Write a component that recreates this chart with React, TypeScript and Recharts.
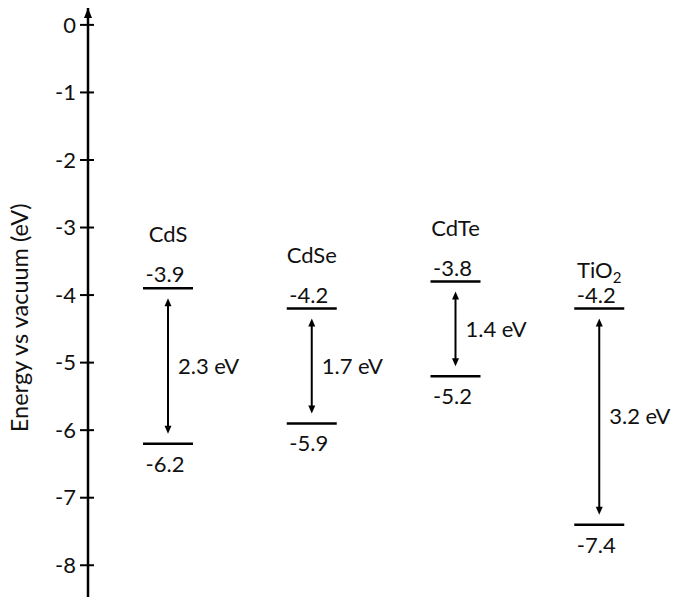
import React from 'react';
import { ComposedChart, Bar, XAxis, YAxis } from 'recharts';

// ---- data ----
const materials = ['CdS', 'CdSe', 'CdTe', 'TiO2'];
const conductionBand = [-3.9, -4.2, -3.8, -4.2];
const valenceBand = [-6.2, -5.9, -5.2, -7.4];
const bandGapLabels = ['2.3 eV', '1.7 eV', '1.4 eV', '3.2 eV'];
const yTicks = [0, -1, -2, -3, -4, -5, -6, -7, -8];
const yLabel = 'Energy vs vacuum (eV)';

const data = materials.map((name, i) => ({
  name,
  cb: conductionBand[i],
  vb: valenceBand[i],
  gap: bandGapLabels[i],
  range: [valenceBand[i], conductionBand[i]],
}));

// ---- style ----
const FONT = 'Lato, "Open Sans", sans-serif';
const FS = 22;
const INK = '#111';
const NAME_GAP = [46, 46, 46, 31];

const renderName = (name: string) => {
  const parts = name.split(/(\d+)/).filter((p) => p.length > 0);
  return parts.map((p, i) =>
    /^\d+$/.test(p) ? (
      <tspan key={i} fontSize={15} dy={5}>
        {p}
      </tspan>
    ) : (
      <tspan key={i}>{p}</tspan>
    )
  );
};

const BandShape = (props: any) => {
  const { x, y, width, height, payload, index } = props;
  if (x == null || y == null) return null;
  const top = Math.min(y, y + height);
  const bottom = Math.max(y, y + height);
  const cx = x + width / 2;
  const mid = (top + bottom) / 2;
  const hw = 3.5;
  const hl = 8;
  const a1 = top + 10;
  const a2 = bottom - 10;
  return (
    <g>
      <line x1={x} x2={x + width} y1={top} y2={top} stroke="#000" strokeWidth={2.5} />
      <line x1={x} x2={x + width} y1={bottom} y2={bottom} stroke="#000" strokeWidth={2.5} />
      <line x1={cx} x2={cx} y1={a1 + hl - 1} y2={a2 - hl + 1} stroke="#000" strokeWidth={2} />
      <polygon points={`${cx},${a1} ${cx - hw},${a1 + hl} ${cx + hw},${a1 + hl}`} fill="#000" />
      <polygon points={`${cx},${a2} ${cx - hw},${a2 - hl} ${cx + hw},${a2 - hl}`} fill="#000" />
      <text x={cx} y={top - NAME_GAP[index]} textAnchor="middle" fontFamily={FONT} fontSize={FS} fill={INK}>
        {renderName(payload.name)}
      </text>
      <text x={cx - 3} y={top - 6} textAnchor="middle" fontFamily={FONT} fontSize={FS} fill={INK}>
        {payload.cb.toFixed(1)}
      </text>
      <text x={cx - 3} y={bottom + 28} textAnchor="middle" fontFamily={FONT} fontSize={FS} fill={INK}>
        {payload.vb.toFixed(1)}
      </text>
      <text x={cx + 10} y={mid} dy="0.35em" textAnchor="start" fontFamily={FONT} fontSize={FS} fill={INK}>
        {payload.gap}
      </text>
    </g>
  );
};

const YTick = (props: any) => {
  const { x, y, payload } = props;
  return (
    <g>
      <line x1={x - 8} x2={x + 6} y1={y} y2={y} stroke="#000" strokeWidth={2} />
      <text x={x - 12} y={y} dy="0.35em" textAnchor="end" fontFamily={FONT} fontSize={FS} fill={INK}>
        {payload.value}
      </text>
    </g>
  );
};

const YAxisLabel = (props: any) => {
  const vb = props.viewBox || {};
  const ax = (vb.x ?? 0) + (vb.width ?? 88);
  const ay = vb.y ?? 8;
  const h = vb.height ?? 589;
  const lx = 20;
  const ly = ay + h * 0.526;
  return (
    <g>
      <polygon points={`${ax},${ay} ${ax - 4},${ay + 10} ${ax + 4},${ay + 10}`} fill="#000" />
      <text
        x={lx}
        y={ly}
        dy="0.35em"
        textAnchor="middle"
        transform={`rotate(-90 ${lx} ${ly})`}
        fontFamily={FONT}
        fontSize={23.5}
        fill={INK}
      >
        {yLabel}
      </text>
    </g>
  );
};

export default function App() {
  return (
    <div style={{ position: 'absolute', left: 0, top: 0, width: 679, height: 597, background: '#fff' }}>
      <ComposedChart width={679} height={597} data={data} margin={{ top: 8, right: 0, bottom: 0, left: 0 }}>
        <XAxis dataKey="name" type="category" hide padding={{ left: 8, right: 8 }} />
        <YAxis
          type="number"
          domain={[-8.47, 0.25]}
          allowDataOverflow
          ticks={yTicks}
          interval={0}
          width={88}
          tickSize={0}
          tickMargin={0}
          tickLine={false}
          axisLine={{ stroke: '#000', strokeWidth: 2.5 }}
          tick={<YTick />}
          label={<YAxisLabel />}
        />
        <Bar dataKey="range" barSize={50} shape={<BandShape />} isAnimationActive={false} />
      </ComposedChart>
    </div>
  );
}
